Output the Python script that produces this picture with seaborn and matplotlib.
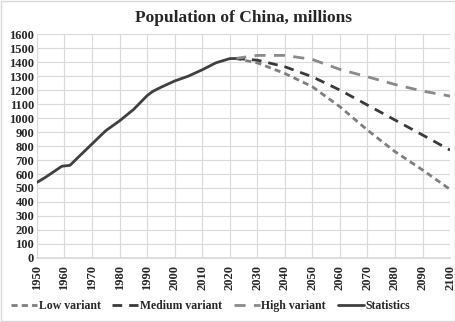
import matplotlib
matplotlib.use("Agg")
import matplotlib.pyplot as plt
import seaborn as sns
import pandas as pd

stat_years = [1950, 1953, 1956, 1959, 1961, 1962, 1965, 1970, 1975, 1980, 1985, 1990, 1992, 1995, 2000, 2005, 2010, 2015, 2020, 2022]
stat_vals = [540, 575, 615, 655, 660, 662, 720, 815, 910, 980, 1060, 1160, 1190, 1220, 1265, 1300, 1345, 1395, 1425, 1426]

proj_years = [2022, 2030, 2040, 2050, 2060, 2070, 2080, 2090, 2100]
low_vals = [1426, 1395, 1319, 1224, 1081, 914, 760, 629, 490]
medium_vals = [1426, 1414, 1367, 1295, 1200, 1093, 986, 879, 771]
high_vals = [1426, 1448, 1448, 1419, 1348, 1295, 1240, 1193, 1157]

sns.set_theme(style="white")
plt.rcParams['font.family'] = ['Liberation Serif', 'DejaVu Serif']
plt.rcParams['font.weight'] = 'bold'

fig = plt.figure(figsize=(4.56, 3.22), dpi=100)
ax = fig.add_axes([0.081, 0.199, 0.906, 0.695])

df_low = pd.DataFrame({"year": proj_years, "value": low_vals})
df_med = pd.DataFrame({"year": proj_years, "value": medium_vals})
df_high = pd.DataFrame({"year": proj_years, "value": high_vals})
df_stat = pd.DataFrame({"year": stat_years, "value": stat_vals})

sns.lineplot(data=df_low, x="year", y="value", ax=ax, color="#7f7f7f", lw=2, label="Low variant")
sns.lineplot(data=df_med, x="year", y="value", ax=ax, color="#3a3a3a", lw=2, label="Medium variant")
sns.lineplot(data=df_high, x="year", y="value", ax=ax, color="#8a8a8a", lw=2, label="High variant")
sns.lineplot(data=df_stat, x="year", y="value", ax=ax, color="#404040", lw=2, label="Statistics")
lines = ax.get_lines()
lines[0].set_dashes([2.2, 1.5])
lines[1].set_dashes([3.5, 2.5])
lines[2].set_dashes([4, 3])

ax.set_xlim(1950, 2100)
ax.set_ylim(0, 1600)
ax.set_xticks(range(1950, 2101, 10))
ax.set_yticks(range(0, 1601, 100))
ax.set_xticklabels([str(y) for y in range(1950, 2101, 10)], rotation=90, fontsize=9, fontweight='bold')
ax.set_yticklabels([str(v) for v in range(0, 1601, 100)], fontsize=9, fontweight='bold')
ax.tick_params(axis='y', length=0, pad=2)
ax.tick_params(axis='x', length=0, pad=5)
ax.grid(True, color="#d9d9d9", lw=0.8)
for s in ax.spines.values():
    s.set_visible(False)
ax.spines['bottom'].set_visible(True)
ax.spines['bottom'].set_color("#d9d9d9")
ax.set_xlabel("")
ax.set_ylabel("")
ax.set_title("Population of China, millions", fontsize=12.5, fontweight='bold', pad=9)

leg = ax.legend(loc="center", bbox_to_anchor=(0.42, -0.215), ncol=4, frameon=False,
                fontsize=8.5, handlelength=2.2, columnspacing=1.0, handletextpad=0.15)
for t in leg.get_texts():
    t.set_fontweight('bold')

fig.patches.append(plt.Rectangle((0.002, 0.003), 0.995, 0.994, transform=fig.transFigure,
                                 fill=False, edgecolor="#d9d9d9", lw=1))
fig.savefig("out.png", dpi=100)
